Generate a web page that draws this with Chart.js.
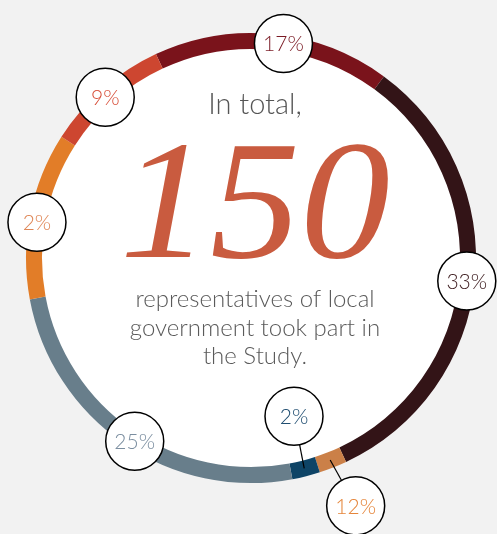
<!DOCTYPE html>
<html lang="en">
<head>
    <meta charset="UTF-8">
    <title>Local government participation</title>
    <script src="https://cdn.jsdelivr.net/npm/chart.js"></script>
    <style>
        html, body { margin: 0; padding: 0; background: #f2f2f2; }
        #wrap { width: 497px; height: 534px; }
    </style>
</head>
<body>
<div id="wrap"><canvas id="ring"></canvas></div>

<script>
// segments, clockwise starting just left of the top
const categories = ['Group A', 'Group B', 'Group C', 'Group D', 'Group E', 'Group F', 'Group G'];
const values = [17, 33, 2, 2, 25, 12, 9];
const valueLabels = ['17%', '33%', '12%', '2%', '25%', '2%', '9%'];
const totalCount = 150;

const segColors = ['#7a131b', '#331417', '#cb8048', '#0e4466', '#687e8b', '#e27d28', '#cd4630'];
const textColors = ['#7a1a24', '#3b1a1d', '#e5853a', '#1f4d70', '#7b8ea0', '#df8656', '#d74e38'];
// radial shift of the bubble for the thin slices (px), + is outward
const bubbleShift = [0, 0, 52, -53, 0, 0, 0];
const angleShift = [3, 0.5, -1.5, -1, -2, -1.5, -1];

const centerText = {
    id: 'centerText',
    beforeDatasetsDraw(chart) {
        const arc = chart.getDatasetMeta(0).data[0];
        const ctx = chart.ctx;
        ctx.save();
        ctx.fillStyle = '#ffffff';
        ctx.beginPath();
        ctx.arc(arc.x, arc.y, arc.innerRadius + 1, 0, Math.PI * 2);
        ctx.fill();
        ctx.restore();
    },
    afterDatasetsDraw(chart) {
        const arc = chart.getDatasetMeta(0).data[0];
        const ctx = chart.ctx;
        const cx = arc.x + 4;
        const cy = arc.y;
        ctx.save();
        ctx.textAlign = 'center';
        ctx.textBaseline = 'alphabetic';
        ctx.fillStyle = '#555555';
        ctx.font = '300 29px Lato';
        ctx.fillText('In total,', cx, cy - 144);
        // big number, slightly widened
        ctx.save();
        ctx.translate(cx, cy - 1);
        ctx.scale(1.06, 1);
        ctx.fillStyle = '#c95b3f';
        ctx.font = 'italic 170px "Liberation Serif"';
        ctx.fillText(String(totalCount), 0, 0);
        ctx.restore();
        ctx.fillStyle = '#5a5a5a';
        ctx.font = '300 24px Lato';
        ['representatives of local', 'government took part in', 'the Study.'].forEach((t, i) => {
            ctx.fillText(t, cx, cy + 49 + i * 28.5);
        });
        ctx.restore();

        // percentage bubbles
        const meta = chart.getDatasetMeta(0);
        meta.data.forEach((el, i) => {
            const mid = (el.startAngle + el.endAngle) / 2 + angleShift[i] * Math.PI / 180;
            const rMid = (el.innerRadius + el.outerRadius) / 2;
            const rb = rMid + bubbleShift[i];
            const bx = el.x + rb * Math.cos(mid);
            const by = el.y + rb * Math.sin(mid);
            const br = 29;
            ctx.save();
            if (bubbleShift[i] !== 0) {
                const m0 = (el.startAngle + el.endAngle) / 2;
                const px = el.x + rMid * Math.cos(m0);
                const py = el.y + rMid * Math.sin(m0);
                const dx = bx - px, dy = by - py;
                const d = Math.hypot(dx, dy);
                ctx.strokeStyle = '#000';
                ctx.lineWidth = 1.2;
                ctx.beginPath();
                ctx.moveTo(px, py);
                ctx.lineTo(bx - dx / d * br, by - dy / d * br);
                ctx.stroke();
            }
            ctx.fillStyle = '#ffffff';
            ctx.strokeStyle = '#000000';
            ctx.lineWidth = 1.5;
            ctx.beginPath();
            ctx.arc(bx, by, br, 0, Math.PI * 2);
            ctx.fill();
            ctx.stroke();
            ctx.fillStyle = textColors[i];
            ctx.font = '300 21px Lato';
            ctx.textAlign = 'center';
            ctx.textBaseline = 'middle';
            ctx.fillText(valueLabels[i], bx, by + 1);
            ctx.restore();
        });
    }
};

new Chart(document.getElementById('ring'), {
    type: 'doughnut',
    data: {
        labels: categories,
        datasets: [{
            data: values,
            backgroundColor: segColors,
            borderWidth: 0
        }]
    },
    options: {
        responsive: true,
        maintainAspectRatio: false,
        animation: false,
        rotation: -25,
        cutout: '92.9%',
        layout: { padding: { left: 26, right: 21, top: 33, bottom: 51 } },
        plugins: {
            legend: { display: false },
            tooltip: { enabled: false }
        }
    },
    plugins: [centerText]
});
</script>
</body>
</html>
